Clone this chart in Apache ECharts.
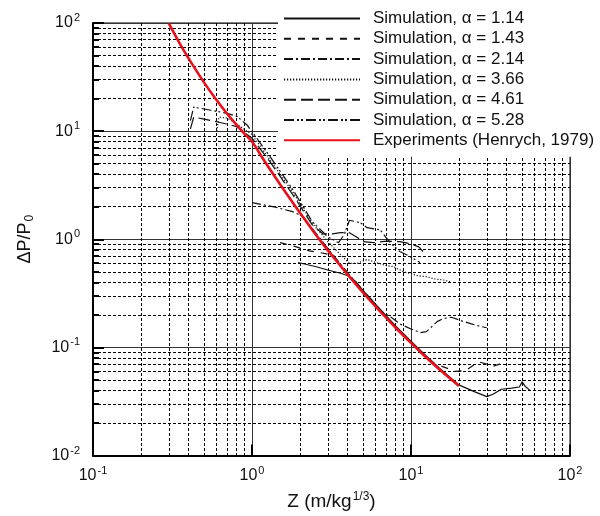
<!DOCTYPE html>
<html><head><meta charset="utf-8">
<script src="https://cdn.jsdelivr.net/npm/echarts@6/dist/echarts.min.js"></script>
<style>html,body{margin:0;padding:0;background:#fff}#c{width:600px;height:516px}</style>
</head><body><div id="c"></div>
<script>
// ---- data ----
const legendNames = [
  'Simulation, \u03b1 = 1.14',
  'Simulation, \u03b1 = 1.43',
  'Simulation, \u03b1 = 2.14',
  'Simulation, \u03b1 = 3.66',
  'Simulation, \u03b1 = 4.61',
  'Simulation, \u03b1 = 5.28',
  'Experiments (Henrych, 1979)'
];
const xRange = [0.1, 100];
const yRange = [0.01, 100];

const henrych = [[0.3,99],[0.35,65],[0.4,46.8],[0.5,28.1],[0.6,19.3],[0.7,14.4],[0.8,11.4],[0.9,9.4],[1.0,8.0],[1.2,5.27],[1.5,3.22],[2,1.76],[2.5,1.12],[3,0.79],[4,0.47],[5,0.32],[6,0.238],[7,0.187],[8,0.152],[10,0.110],[12,0.085],[15,0.063],[20,0.044]];

const sim114 = [[1.95,0.61],[2.5,0.56],[3.0,0.52],[3.6,0.485],[4.1,0.455],[4.5,0.405],[5,0.335],[6,0.25],[7,0.195],[8,0.158],[10,0.114],[12,0.088],[15,0.065],[20,0.045],[25,0.039],[30,0.035],[33,0.037],[37,0.041],[43,0.042],[48,0.043],[50,0.048],[52,0.044],[56,0.040]];

const sim143 = [[1.5,0.93],[1.9,0.85],[2.3,0.78],[2.7,0.75],[3.1,0.72],[3.5,0.6],[4,0.48],[5,0.33],[6,0.245],[7,0.192],[8,0.156],[10,0.112],[12,0.087],[14,0.071],[16,0.066],[19,0.06],[22,0.061],[25,0.069],[27,0.073],[30,0.07],[33,0.067],[36,0.07],[40,0.068]];

const sim214 = [[1.0,2.18],[1.4,1.98],[1.8,1.8],[2.1,1.62],[2.5,1.16],[3,0.82],[4,0.49],[5,0.335],[6,0.25],[6.5,0.215],[7.5,0.19],[8.5,0.165],[10,0.148],[11.5,0.137],[12.5,0.14],[13.5,0.155],[14.6,0.173],[16,0.185],[18,0.19],[21,0.175],[24,0.165],[27,0.157],[30,0.152]];

const sim366 = [[0.6,10],[0.62,13.5],[0.7,13.2],[0.78,12],[0.9,10.3],[1.0,9.3],[1.3,5.4],[1.8,2.75],[2.4,1.4],[3.0,0.95],[3.6,0.72],[4.1,0.6],[4.6,0.6],[5.3,0.65],[6.0,0.61],[7,0.57],[7.7,0.56],[9,0.5],[10,0.48],[11,0.46],[12.6,0.45],[14,0.43],[16,0.42],[17.6,0.405]];

const sim461 = [[0.41,10.5],[0.43,13.5],[0.5,12.9],[0.6,12.2],[0.7,11.6],[0.8,11.0],[0.9,9.7],[1.0,8.6],[1.3,5.2],[1.8,2.6],[2.4,1.35],[2.8,1.12],[3.2,1.12],[3.6,1.15],[4.1,1.15],[4.6,1.04],[5.0,0.95],[5.8,0.93],[7.1,0.96],[8.5,0.95],[9.5,0.92],[10.3,0.89],[11.2,0.85],[11.9,0.77]];

const sim528 = [[0.41,12.5],[0.43,16.7],[0.55,15.6],[0.7,14.6],[0.81,13.6],[0.93,11.4],[1.0,9.9],[1.3,5.8],[1.8,2.9],[2.4,1.45],[3.0,1.05],[3.5,0.93],[3.8,1.1],[4.1,1.5],[4.8,1.42],[5.3,1.28],[6.4,1.22],[7.4,0.93],[8.5,0.77],[9.9,0.69],[11.4,0.61]];

// ---- chart ----
const F = '"Liberation Sans", Arial, Helvetica, sans-serif';
const chart = echarts.init(document.getElementById('c'), null, {renderer: 'canvas'});
function powLabel(v) {
  const e = Math.round(Math.log10(v));
  return '10{sup|' + e + '}';
}
const supRich = {sup: {fontSize: 11, fontFamily: F, color: '#111', padding: [0, 0, 10, 1]}};

function axisCommon() {
  return {
    type: 'log', logBase: 10,
    axisLine: {show: true, onZero: false, lineStyle: {color: '#000', width: 2}},
    axisTick: {show: true, inside: true, length: 11, lineStyle: {color: '#000', width: 2}},
    minorTick: {show: false, splitNumber: 9},
    splitLine: {show: true, lineStyle: {color: '#333', width: 1}},
    minorSplitLine: {show: true, lineStyle: {color: '#000', width: 1, type: [3, 2]}},
    axisLabel: {formatter: powLabel, fontSize: 16, color: '#111', fontFamily: F, rich: supRich}
  };
}
const xAxis = Object.assign(axisCommon(), {
  min: xRange[0], max: xRange[1],
  name: 'Z (m/kg{sup|1/3})', nameLocation: 'middle', nameGap: 35,
  nameTextStyle: {fontSize: 19, color: '#111', fontFamily: F,
    rich: {sup: {fontSize: 12, fontFamily: F, color: '#111', padding: [0, 0, 10, 1]}}}
});
xAxis.axisLabel.margin = 10;
const yAxis = Object.assign(axisCommon(), {
  min: yRange[0], max: yRange[1],
  name: '\u0394P/P{sub|0}', nameLocation: 'middle', nameGap: 57, nameRotate: 90,
  nameTextStyle: {fontSize: 18, color: '#111', fontFamily: F,
    rich: {sub: {fontSize: 12, fontFamily: F, color: '#111', padding: [9, 0, 0, 1]}}}
});
yAxis.axisLabel.margin = 13;
yAxis.minorTick = {show: true, splitNumber: 9, length: 6, lineStyle: {color: '#000', width: 2}};

const simData = [sim114, sim143, sim214, sim366, sim461, sim528];
const dashes = ['solid', [7, 7], [9, 3, 2, 3], [1.2, 1.8], [12, 5], [10, 3, 2, 2, 2, 3]];
const series = simData.map((d, i) => ({
  name: legendNames[i], type: 'line', data: d, symbol: 'none', silent: true,
  lineStyle: {color: '#111', width: 1.2, type: dashes[i]}, itemStyle: {color: '#111'}, z: 3
}));
series.push({
  name: legendNames[6], type: 'line', data: henrych, symbol: 'none', silent: true, smooth: 0.2,
  lineStyle: {color: '#e8101a', width: 2.6}, itemStyle: {color: '#e8101a'}, z: 4
});

chart.setOption({
  animation: false,
  backgroundColor: '#fff',
  grid: {left: 93, right: 30, top: 23, bottom: 60, show: true, borderColor: '#000', borderWidth: 1},
  legend: {
    orient: 'vertical', left: 278, top: 0, align: 'left',
    itemWidth: 76, itemHeight: 14, itemGap: 3.3,
    padding: [10, 8, 8, 5], backgroundColor: '#fff',
    itemStyle: {color: 'rgba(0,0,0,0)', borderWidth: 0, opacity: 0},
    textStyle: {fontSize: 17, color: '#111', fontFamily: F, padding: [0, 0, 0, 8]},
    data: legendNames, z: 10
  },
  xAxis: xAxis,
  yAxis: yAxis,
  series: series
});
</script>
</body></html>
